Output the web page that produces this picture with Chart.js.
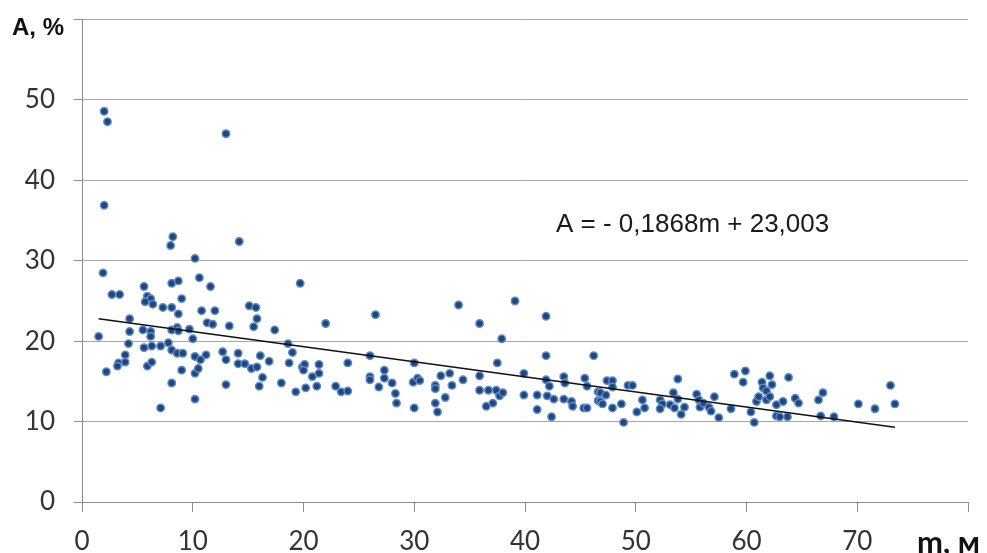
<!DOCTYPE html>
<html>
<head>
<meta charset="utf-8">
<script src="https://cdn.jsdelivr.net/npm/chart.js@4.4.1/dist/chart.umd.min.js"></script>
<style>
  html, body { margin: 0; padding: 0; background: #fff; }
  #wrap { width: 987px; height: 553px; }
</style>
</head>
<body>
<div id="wrap"><canvas id="chart" width="987" height="553"></canvas></div>
<script>
// depth m, metres
const mValues = [
  2.0, 2.3, 13.0, 2.0,
  8.2, 8.0, 14.2, 10.2, 1.9,
  2.7, 3.4, 5.6, 8.1, 8.7, 10.6, 11.6,
  5.9, 6.2, 5.7, 6.4, 9.0, 7.3, 8.1, 8.7,
  10.8, 12.0, 15.1, 15.7, 4.3, 11.3, 11.8, 13.3, 15.5, 15.8,
  1.5, 4.3, 5.5, 6.2, 6.2, 8.1, 8.6, 8.7, 9.7, 10.0,
  4.2, 5.6, 6.3, 7.1, 7.8, 8.1, 8.6, 9.1,
  3.9, 3.3, 3.9, 3.2, 2.2, 5.9, 6.3,
  10.2, 10.7, 11.2, 12.7, 13.0, 14.1, 14.1, 14.7, 15.3, 15.8,
  8.1, 9.0, 10.2, 10.5, 13.0, 10.2, 7.1,
  16.1, 16.9, 17.4, 18.6, 19.0, 18.7, 19.7,
  19.9, 20.1, 20.0, 21.4, 21.4, 20.8,
  16.0, 16.3, 18.0, 19.3, 20.2, 21.2, 22.9, 23.4, 24.0, 24.0, 22.0,
  26.5, 34.0, 39.1, 35.9, 41.9, 37.9, 26.0, 41.9, 46.2, 30.0, 37.5,
  27.3, 27.3, 26.0, 26.0, 28.0, 26.8, 28.3, 28.4,
  29.9, 30.3, 30.5, 30.0, 31.9, 31.9, 32.4, 32.8, 31.9, 32.1,
  33.2, 33.4, 34.4, 35.9, 35.9, 36.7, 37.4, 37.7, 38.0, 36.5, 37.1,
  39.9, 39.9, 41.1, 41.1, 41.9, 42.2, 42.0, 42.6, 42.4,
  43.5, 43.6, 43.5, 44.2, 44.3, 45.3, 45.6, 45.4, 45.6, 46.6, 46.6,
  47.4, 47.9, 47.9, 46.8, 47.3, 46.8, 47.0, 47.9, 48.7, 48.9,
  49.3, 49.7, 50.6, 50.8, 50.1, 52.2, 52.4, 52.2, 53.1, 53.5,
  53.4, 53.8, 53.8, 54.1, 54.4, 55.5, 55.7, 55.8, 56.1, 56.6,
  56.8, 57.1, 57.5, 58.6, 58.9, 59.9, 59.7, 60.4, 60.7,
  60.9, 61.1, 61.4, 61.5, 61.8, 61.8, 62.1, 62.3, 62.1,
  62.7, 62.7, 63.0, 63.3, 63.7, 63.8, 64.4, 64.7,
  66.5, 66.9, 66.7, 67.9, 70.1, 71.6, 73.0, 73.4
];
// A, %
const aValues = [
  48.6, 47.3, 45.8, 36.9,
  33.0, 31.9, 32.4, 30.3, 28.5,
  25.8, 25.8, 26.8, 27.2, 27.5, 27.9, 26.8,
  25.6, 25.3, 24.9, 24.6, 25.3, 24.2, 24.2, 23.4,
  23.8, 23.8, 24.4, 24.2, 22.8, 22.3, 22.1, 21.9, 21.8, 22.8,
  20.6, 21.2, 21.4, 21.2, 20.6, 21.4, 21.7, 21.3, 21.5, 20.3,
  19.7, 19.2, 19.4, 19.4, 19.8, 18.9, 18.5, 18.5,
  18.3, 17.3, 17.4, 16.9, 16.2, 16.9, 17.4,
  18.1, 17.7, 18.3, 18.7, 17.7, 18.5, 17.2, 17.2, 16.6, 16.8,
  14.8, 16.4, 16.0, 16.6, 14.6, 12.8, 11.7,
  18.2, 17.5, 21.4, 19.7, 18.6, 17.3, 27.2,
  16.8, 17.1, 16.4, 17.1, 16.0, 15.6,
  14.4, 15.5, 14.8, 13.7, 14.2, 14.4, 14.4, 13.7, 13.8, 17.3, 22.2,
  23.3, 24.5, 25.0, 22.2, 23.1, 20.3, 18.2, 18.2, 18.2, 17.3, 17.3,
  16.4, 15.4, 15.6, 15.2, 14.8, 14.3, 13.5, 12.3,
  14.9, 15.4, 15.1, 11.7, 14.5, 14.1, 15.7, 13.0, 12.3, 11.2,
  16.0, 14.5, 15.2, 15.7, 13.9, 13.9, 13.9, 13.2, 13.6, 11.9, 12.3,
  16.0, 13.3, 13.3, 11.5, 15.2, 14.4, 13.2, 12.8, 10.6,
  15.6, 14.8, 12.8, 12.5, 11.9, 11.7, 11.7, 15.4, 14.4, 13.7, 12.6,
  15.1, 15.1, 14.3, 13.6, 13.3, 12.5, 12.2, 11.7, 12.2, 9.9,
  14.5, 14.5, 12.7, 11.7, 11.2, 12.7, 12.2, 11.6, 12.1, 11.7,
  13.6, 12.8, 15.3, 10.9, 11.8, 13.4, 12.7, 11.8, 12.3, 11.8,
  11.3, 13.1, 10.5, 11.6, 15.9, 16.3, 14.9, 11.2, 9.9,
  12.5, 13.1, 14.9, 14.2, 13.8, 12.7, 15.7, 14.6, 13.1,
  12.1, 10.7, 10.6, 12.5, 10.6, 15.5, 12.9, 12.3,
  12.7, 13.6, 10.7, 10.6, 12.2, 11.6, 14.5, 12.2
];
// linear trend, ends
const trendM = [1.5, 73.4];
const trendA = [22.8, 9.3];

const xTicks = [0, 10, 20, 30, 40, 50, 60, 70];
const yTicks = [0, 10, 20, 30, 40, 50];
const equation = 'A = - 0,1868m + 23,003';

const points = mValues.map((m, i) => ({ x: m, y: aValues[i] }));
const trend = trendM.map((m, i) => ({ x: m, y: trendA[i] }));

const labels = {
  id: 'labels',
  afterDraw(chart) {
    const ctx = chart.ctx;
    ctx.save();
    ctx.fillStyle = '#111';
    ctx.textBaseline = 'alphabetic';
    ctx.textAlign = 'left';
    ctx.font = 'bold 24px "Liberation Sans", Arial, sans-serif';
    ctx.fillText('A, %', 12, 35);
    ctx.font = 'bold 31px Lato, sans-serif';
    ctx.fillText('m, м', 917, 553);
    ctx.fillStyle = '#1a1a1a';
    ctx.font = '26px "Liberation Sans", Arial, sans-serif';
    ctx.fillText(equation, 556, 232);
    ctx.restore();
  }
};

new Chart(document.getElementById('chart'), {
  type: 'scatter',
  data: {
    datasets: [{
      data: points,
      pointRadius: 3.7,
      pointBackgroundColor: '#22457c',
      pointBorderColor: '#5b8bc9',
      pointBorderWidth: 1.5,
      order: 2
    }, {
      data: trend,
      showLine: true,
      borderColor: '#111',
      borderWidth: 1.5,
      pointRadius: 0,
      order: 1
    }]
  },
  options: {
    responsive: false,
    animation: false,
    devicePixelRatio: 1,
    layout: { padding: { top: 19, right: 19, left: 0, bottom: 0 } },
    plugins: { legend: { display: false }, tooltip: { enabled: false } },
    scales: {
      x: {
        type: 'linear', min: 0, max: 80,
        afterFit: s => { s.height = 51; },
        afterBuildTicks: s => { s.ticks = xTicks.concat([80]).map(v => ({ value: v })); },
        ticks: {
          padding: 14, maxRotation: 0, autoSkip: false,
          color: '#333',
          font: c => ({ family: 'Lato', size: c.tick && c.tick.value === 80 ? 1 : 26 }),
          callback: v => (xTicks.includes(v) ? String(v) : '')
        },
        grid: { drawOnChartArea: false, drawTicks: true, tickLength: 10, tickColor: '#8c8c8c' },
        border: { color: '#8c8c8c', width: 1 }
      },
      y: {
        min: 0, max: 60,
        afterFit: s => { s.width = 82; },
        afterBuildTicks: s => { s.ticks = yTicks.concat([60]).map(v => ({ value: v })); },
        ticks: {
          padding: 19, autoSkip: false,
          color: '#333',
          font: c => ({ family: 'Lato', size: c.tick && c.tick.value === 60 ? 1 : 26 }),
          callback: v => (yTicks.includes(v) ? String(v) : '')
        },
        grid: { color: '#a6a6a6', tickLength: 8, tickColor: '#8c8c8c' },
        border: { color: '#8c8c8c', width: 1 }
      }
    }
  },
  plugins: [labels]
});
</script>
</body>
</html>
